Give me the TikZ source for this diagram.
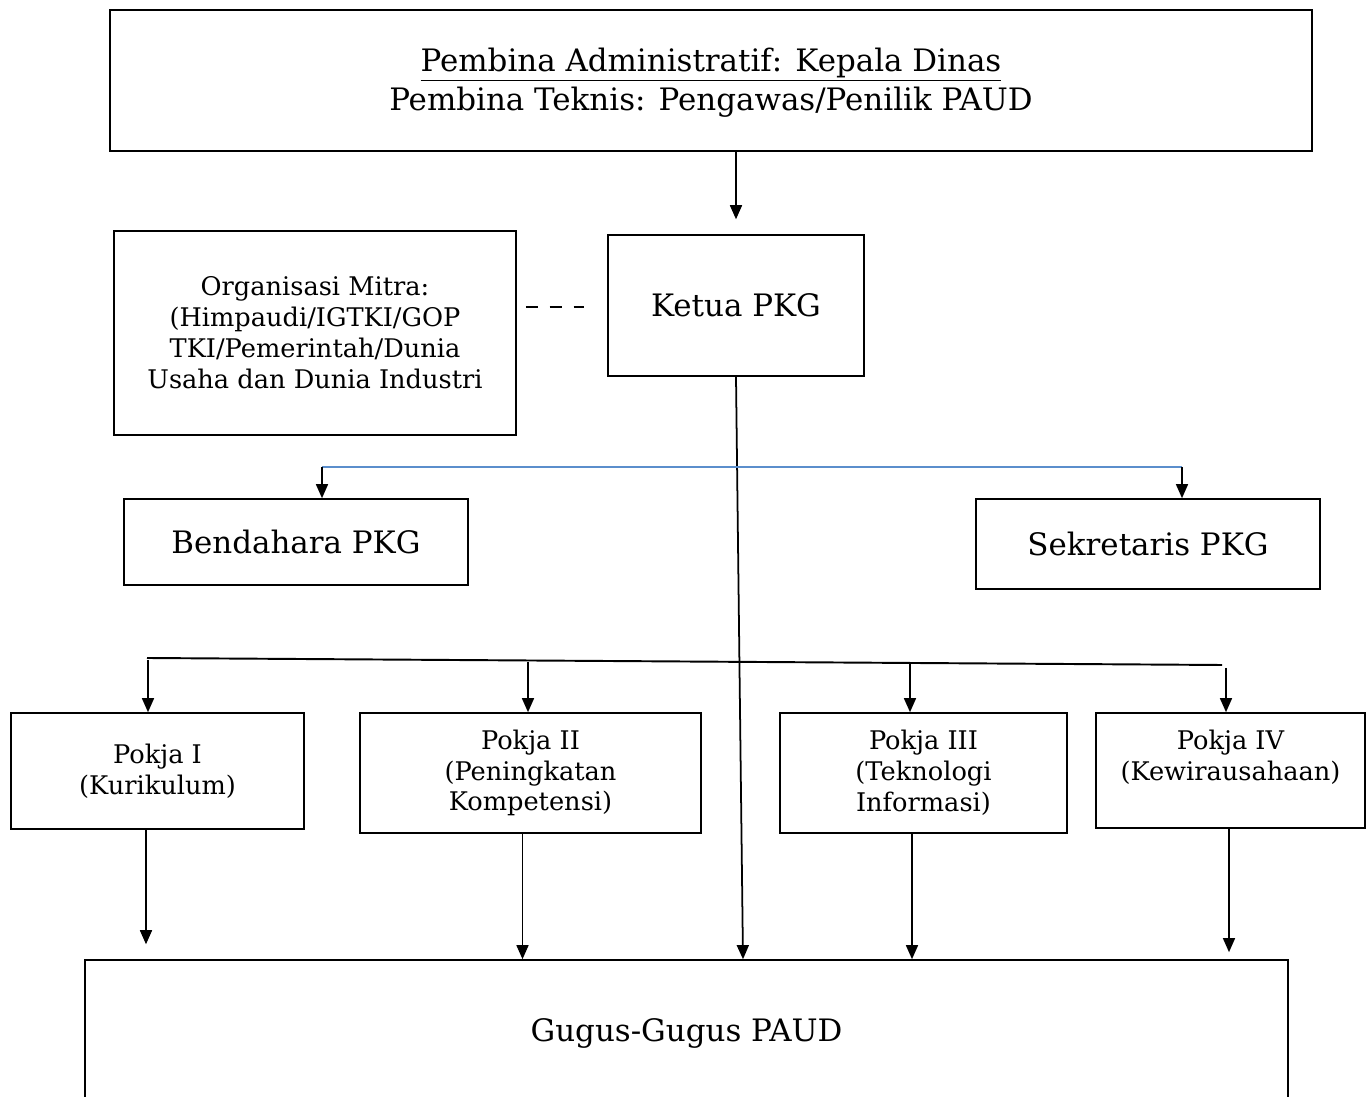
\documentclass[tikz,border=0pt]{standalone}
\usepackage{fontspec}
\setmainfont{DejaVu Serif}
\usetikzlibrary{arrows.meta,calc,positioning}
\definecolor{linkblue}{RGB}{91,142,204}

\begin{document}
\begin{tikzpicture}[x=0.02cm,y=-0.02cm,
	  every node/.style={align=center,draw=none,inner sep=0pt},
	  box/.style={draw,line width=0.9pt},
	  bigtext/.style={font=\fontsize{17.6}{22}\selectfont},
	  smalltext/.style={font=\fontsize{14.6}{17.6}\selectfont},
	  to/.style={-{Triangle[width=6.8pt,length=8pt]},line width=1pt},
	  link/.style={draw=linkblue,line width=1.7pt},
	  bar/.style={line width=1.1pt}]

	  \clip (0,0) rectangle (1370,1097);

	  % Position the boxes at their coordinates
	  \node[box,bigtext,minimum width=24.04cm,minimum height=2.82cm] (pembina) at (711,80.5) {\rule{0pt}{16pt}\underline{Pembina Administratif: Kepala Dinas}\\Pembina Teknis: Pengawas/Penilik PAUD};
	  \node[box,smalltext,minimum width=8.04cm,minimum height=4.08cm] (mitra) at (315,333) {Organisasi Mitra:\\(Himpaudi/IGTKI/GOP\\TKI/Pemerintah/Dunia\\Usaha dan Dunia Industri};
	  \node[box,bigtext,minimum width=5.12cm,minimum height=2.82cm] (ketua) at (736,305.5) {Ketua PKG};
	  \node[box,bigtext,minimum width=6.88cm,minimum height=1.72cm] (bendahara) at (296,542) {Bendahara PKG};
	  \node[box,bigtext,minimum width=6.88cm,minimum height=1.8cm] (sekretaris) at (1148,544) {Sekretaris PKG};
	  \node[box,smalltext,minimum width=5.86cm,minimum height=2.32cm] (pokja1) at (157.5,771) {Pokja I\\(Kurikulum)};
	  \node[box,smalltext,minimum width=6.82cm,minimum height=2.4cm] (pokja2) at (530.5,773) {Pokja II\\(Peningkatan\\Kompetensi)};
	  \node[box,smalltext,minimum width=5.74cm,minimum height=2.4cm] (pokja3) at (923.5,773) {Pokja III\\(Teknologi\\Informasi)};
	  \node[box,smalltext,minimum width=5.38cm,minimum height=2.3cm] (pokja4) at (1230.5,770.5) {Pokja IV\\(Kewirausahaan)\\[-6pt]\strut};
	  \node[box,bigtext,minimum width=24.06cm,minimum height=2.92cm] (gugus) at (686.5,1033) {Gugus-Gugus PAUD};

	  % Branch points
	  \coordinate (bl) at (322,467);
	  \coordinate (br) at (1182,467);
	  \coordinate (pl) at (147,658);
	  \coordinate (pr) at (1222,665);
	  \coordinate (p1) at (148,660);
	  \coordinate (p2) at (528,662);
	  \coordinate (p3) at (910,663);
	  \coordinate (p4) at (1226,668);
	  \coordinate (g1) at ($(pokja1.south)+(-11.5,0)$);
	  \coordinate (g2) at ($(pokja2.south)+(-8,0)$);
	  \coordinate (g3) at ($(pokja3.south)+(-11.5,0)$);
	  \coordinate (g4) at ($(pokja4.south)+(-1.5,0)$);

	  \draw[to,shorten >=8.5pt] (ketua.north |- pembina.south) -- (ketua.north);
	  \draw[line width=1.4pt,dash pattern=on 6.8pt off 6.8pt] ($(mitra.east |- ketua.west)+(9,1.5)$) -- ($(ketua.west)+(-23,1.5)$);
	  \draw[to] (ketua.south) -- ($(gugus.north)+(56.5,0)$);
	  \draw[link] (bl) -- (br);
	  \draw[to] (bl) -- (bl |- bendahara.north);
	  \draw[to] (br) -- (br |- sekretaris.north);
	  \draw[bar] (pl) -- (pr);
	  \draw[to] (p1) -- (p1 |- pokja1.north);
	  \draw[to] (p2) -- (p2 |- pokja2.north);
	  \draw[to] (p3) -- (p3 |- pokja3.north);
	  \draw[to] (p4) -- (p4 |- pokja4.north);
	  \draw[to,shorten >=8.5pt] (g1) -- (g1 |- gugus.north);
	  \draw[to] (g2) -- (g2 |- gugus.north);
	  \draw[to] (g3) -- (g3 |- gugus.north);
	  \draw[to,shorten >=4pt] (g4) -- (g4 |- gugus.north);
\end{tikzpicture}
\end{document}
